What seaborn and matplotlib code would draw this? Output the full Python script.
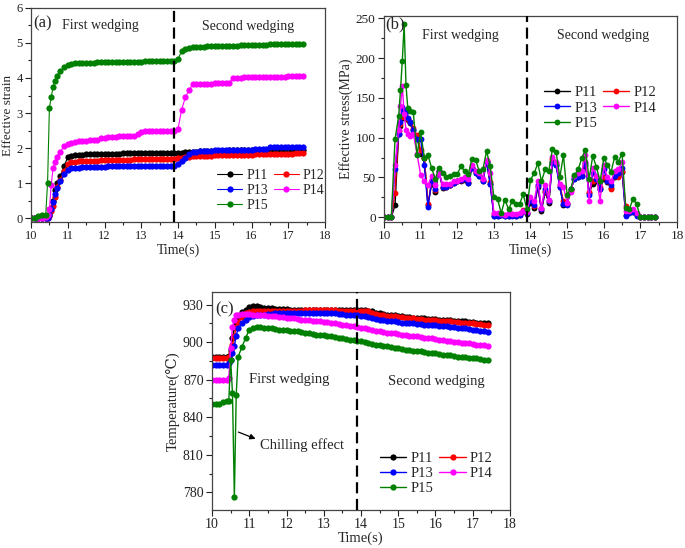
import matplotlib
matplotlib.use("Agg")
import matplotlib.pyplot as plt
import matplotlib.ticker as ticker
import seaborn as sns

# time grid (s), extra points during the fast transient
TIME = [10.0, 10.1, 10.2, 10.3, 10.4, 10.45, 10.5, 10.55, 10.6, 10.65, 10.7, 10.8, 10.9,
        11.0, 11.1, 11.2, 11.3, 11.4, 11.5, 11.6, 11.7, 11.8, 11.9,
        12.0, 12.1, 12.2, 12.3, 12.4, 12.5, 12.6, 12.7, 12.8, 12.9,
        13.0, 13.1, 13.2, 13.3, 13.4, 13.5, 13.6, 13.7, 13.8, 13.9,
        14.0, 14.1, 14.2, 14.3, 14.4, 14.5, 14.6, 14.7, 14.8, 14.9,
        15.0, 15.1, 15.2, 15.3, 15.4, 15.5, 15.6, 15.7, 15.8, 15.9,
        16.0, 16.1, 16.2, 16.3, 16.4, 16.5, 16.6, 16.7, 16.8, 16.9,
        17.0, 17.1, 17.2, 17.3, 17.4]

POINTS = ["P11", "P12", "P13", "P14", "P15"]
COLORS = ["#000000", "#ff0000", "#0000ff", "#ff00ff", "#008000"]

# (a) effective strain
STRAIN_P11 = [0, 0, 0, 0, 0, 0.02, 0.1, 0.3, 0.5, 0.8, 1.0, 1.2, 1.5,
              1.73, 1.78, 1.8, 1.8, 1.81, 1.82, 1.82, 1.82, 1.83, 1.83,
              1.83, 1.84, 1.84, 1.84, 1.84, 1.85, 1.85, 1.85, 1.85, 1.85,
              1.85, 1.86, 1.86, 1.86, 1.86, 1.86, 1.86, 1.86, 1.86, 1.86,
              1.86, 1.87, 1.88, 1.89, 1.9, 1.9, 1.91, 1.91, 1.91, 1.91,
              1.92, 1.92, 1.92, 1.92, 1.93, 1.93, 1.93, 1.93, 1.93, 1.93,
              1.94, 1.94, 1.94, 1.94, 1.94, 1.94, 1.94, 1.95, 1.95, 1.95,
              1.95, 1.95, 1.95, 1.95, 1.95]
STRAIN_P12 = [0, 0, 0, 0, 0, 0, 0.05, 0.2, 0.35, 0.6, 0.9, 1.1, 1.35,
              1.55, 1.6, 1.61, 1.62, 1.62, 1.63, 1.63, 1.64, 1.64, 1.65,
              1.65, 1.65, 1.66, 1.66, 1.66, 1.67, 1.67, 1.67, 1.68, 1.68,
              1.68, 1.68, 1.69, 1.69, 1.69, 1.69, 1.7, 1.7, 1.7, 1.7,
              1.71, 1.72, 1.73, 1.75, 1.76, 1.77, 1.77, 1.78, 1.78, 1.78,
              1.79, 1.79, 1.79, 1.8, 1.8, 1.8, 1.8, 1.81, 1.81, 1.81,
              1.81, 1.82, 1.82, 1.82, 1.82, 1.83, 1.83, 1.83, 1.84, 1.84,
              1.84, 1.84, 1.85, 1.85, 1.85]
STRAIN_P13 = [0, 0, 0, 0, 0, 0, 0.08, 0.25, 0.45, 0.7, 0.85, 1.05, 1.25,
              1.38, 1.42, 1.43, 1.44, 1.45, 1.45, 1.46, 1.46, 1.47, 1.47,
              1.47, 1.48, 1.48, 1.48, 1.48, 1.49, 1.49, 1.49, 1.49, 1.5,
              1.5, 1.5, 1.5, 1.5, 1.5, 1.5, 1.5, 1.5, 1.5, 1.5,
              1.55, 1.62, 1.72, 1.82, 1.88, 1.9, 1.91, 1.91, 1.92, 1.92,
              1.93, 1.93, 1.93, 1.94, 1.94, 1.94, 1.94, 1.95, 1.95, 1.95,
              1.95, 1.96, 1.96, 1.97, 1.97, 2.02, 2.03, 2.03, 2.03, 2.04,
              2.04, 2.04, 2.04, 2.04, 2.04]
STRAIN_P14 = [0, 0, 0, 0, 0.02, 0.08, 0.25, 0.95, 1.42, 1.6, 1.75, 1.9, 2.05,
              2.12, 2.15, 2.18, 2.19, 2.2, 2.21, 2.22, 2.23, 2.24, 2.28,
              2.3, 2.31, 2.32, 2.32, 2.33, 2.33, 2.34, 2.34, 2.35, 2.4,
              2.47, 2.48, 2.48, 2.48, 2.48, 2.49, 2.49, 2.49, 2.49, 2.5,
              2.55, 3.1, 3.45, 3.65, 3.82, 3.83, 3.83, 3.84, 3.84, 3.84,
              3.85, 3.85, 3.85, 3.86, 3.86, 4.0, 4.01, 4.01, 4.02, 4.02,
              4.02, 4.03, 4.03, 4.03, 4.03, 4.04, 4.04, 4.04, 4.04, 4.04,
              4.05, 4.05, 4.05, 4.05, 4.05]
STRAIN_P15 = [0, 0, 0.05, 0.08, 0.1, 1.0, 3.15, 3.45, 3.75, 3.9, 4.05, 4.2, 4.3,
              4.38, 4.41, 4.42, 4.43, 4.43, 4.44, 4.44, 4.44, 4.45, 4.45,
              4.45, 4.45, 4.46, 4.46, 4.46, 4.46, 4.47, 4.47, 4.47, 4.47,
              4.47, 4.48, 4.48, 4.48, 4.48, 4.48, 4.49, 4.49, 4.49, 4.49,
              4.55, 4.76, 4.84, 4.87, 4.88, 4.88, 4.89, 4.89, 4.9, 4.9,
              4.9, 4.91, 4.91, 4.91, 4.92, 4.92, 4.92, 4.93, 4.93, 4.93,
              4.94, 4.94, 4.95, 4.95, 4.95, 4.96, 4.96, 4.97, 4.97, 4.97,
              4.98, 4.98, 4.98, 4.98, 4.98]

# (b) effective stress (MPa)
STRESS_P11 = [0, 0, 0, 15, 105, 115, 125, 125, 125, 122, 118, 110, 100,
              80, 75, 15, 42, 32, 58, 37, 38, 40, 43,
              45, 46, 47, 43, 62, 56, 52, 46, 70, 42,
              2, 2, 3, 2, 2, 3, 2, 3, 8, 4,
              18, 12, 38, 8, 32, 18, 70, 66, 38, 15,
              16, 35, 48, 50, 52, 65, 30, 42, 46, 36,
              48, 44, 37, 50, 52, 57, 3, 6, 7, 3,
              0, 0, 0, 0, 0]
STRESS_P12 = [0, 0, 0, 31, 108, 117, 126, 127, 126, 123, 120, 112, 103,
              85, 75, 16, 45, 34, 58, 38, 38, 41, 44,
              46, 47, 48, 44, 63, 57, 53, 47, 71, 44,
              4, 4, 4, 3, 3, 4, 3, 4, 9, 5,
              22, 14, 40, 10, 33, 20, 73, 68, 40, 20,
              18, 34, 50, 52, 53, 70, 32, 45, 48, 38,
              50, 45, 36, 52, 50, 58, 14, 7, 8, 4,
              0, 0, 0, 0, 0]
STRESS_P13 = [0, 0, 0, 60, 105, 120, 138, 135, 132, 125, 120, 110, 98,
              98, 65, 13, 45, 35, 58, 38, 38, 40, 43,
              45, 47, 48, 43, 62, 55, 52, 45, 70, 42,
              1, 1, 3, 1, 1, 2, 1, 3, 8, 5,
              20, 15, 40, 10, 35, 20, 68, 65, 38, 16,
              15, 35, 48, 50, 52, 68, 28, 55, 48, 35,
              60, 45, 40, 52, 55, 62, 2, 5, 6, 2,
              0, 0, 0, 0, 0]
STRESS_P14 = [0, 0, 0, 65, 110, 140, 165, 130, 110, 104, 102, 105, 80,
              53, 45, 40, 52, 40, 55, 42, 42, 42, 45,
              46, 48, 50, 48, 65, 58, 55, 48, 72, 55,
              5, 5, 4, 3, 5, 4, 4, 5, 8, 6,
              25, 20, 45, 12, 40, 22, 76, 70, 42, 38,
              18, 32, 52, 55, 58, 78, 20, 62, 52, 20,
              65, 50, 45, 58, 60, 70, 8, 8, 10, 5,
              0, 0, 0, 0, 0]
STRESS_P15 = [0, 0, 0, 98, 127, 160, 197, 243, 166, 137, 133, 132, 78,
              107, 75, 78, 62, 48, 62, 55, 50, 52, 54,
              54, 64, 58, 54, 73, 72, 58, 60, 83, 64,
              25, 23, 5, 22, 10, 20, 17, 16, 29, 10,
              47, 55, 68, 45, 60, 58, 86, 82, 50, 78,
              28, 36, 53, 60, 74, 85, 48, 77, 63, 45,
              74, 66, 57, 76, 70, 80, 12, 10, 23, 16,
              0, 0, 0, 0, 0]

# (c) temperature (deg C)
TEMP_P11 = [888, 888, 888, 888, 888, 889, 894, 903, 912, 916, 920, 924, 926,
            928, 928.5, 928.5, 928, 927.5, 927, 927, 926.5, 926.5, 926.5,
            926.5, 926, 926, 925.5, 925.5, 926, 926, 926, 926, 926,
            926, 926, 926, 926, 926, 925.5, 925.5, 925.5, 925.5, 925.5,
            925.5, 925.5, 925, 924.5, 923.5, 923, 922.5, 922, 921.5, 921.5,
            921, 920.5, 920, 920, 919.5, 919.5, 919, 919, 918.5, 918.5,
            918.5, 918, 918, 917.5, 917.5, 917, 917, 916.5, 916.5, 916,
            916, 915.5, 915.5, 915, 915]
TEMP_P12 = [887, 887, 887, 887, 887, 888, 891, 898, 905, 912, 916, 920, 923,
            924, 925, 925, 925, 925, 925, 925, 925, 925, 925,
            925, 925, 925, 925, 925, 925.5, 925.5, 925.5, 925.5, 925.5,
            925.5, 925.5, 925.5, 925.5, 925, 925, 925, 925, 925, 925,
            925, 925, 924.5, 923.5, 922.5, 922, 921.5, 921, 921, 920.5,
            920, 920, 919.5, 919, 919, 918.5, 918.5, 918, 918, 917.5,
            917.5, 917, 917, 916.5, 916.5, 916, 916, 915.5, 915.5, 915,
            915, 914.5, 914.5, 914, 914]
TEMP_P13 = [882, 882, 882, 882, 882, 883, 886, 891, 897, 905, 911, 915, 918,
            920, 921, 921.5, 922, 922, 922.5, 922.5, 923, 923, 923,
            923, 923, 923, 923, 923, 923, 923, 923, 923, 923,
            923, 923, 923, 923, 922.5, 922.5, 922, 922, 921.5, 921.5,
            921, 920.5, 920, 919, 918.5, 918, 917.5, 917, 916.5, 916.5,
            916, 915.5, 915.5, 915, 915, 914.5, 914.5, 914, 914, 913.5,
            913.5, 913, 913, 912.5, 912, 912, 911.5, 911, 911, 910.5,
            910, 909.5, 909, 908.5, 908]
TEMP_P14 = [870, 870, 870, 870, 870, 871, 895, 912, 918, 921.5, 922, 922.5, 922.5,
            922.5, 922, 922, 921.5, 921.5, 921, 921, 920.5, 920, 920,
            919.5, 919, 919, 918.5, 918, 918, 917.5, 917, 917, 916.5,
            916, 916, 915.5, 915, 914.5, 914, 913.5, 913, 912.5, 912,
            911.5, 911, 910.5, 910, 909, 908.5, 908, 907.5, 907, 907,
            906.5, 906, 905.5, 905, 904.5, 904.5, 904, 903.5, 903, 903,
            902.5, 902, 901.5, 901, 900.5, 900, 900, 899.5, 899, 899,
            898.5, 898, 897.5, 897.5, 897]
TEMP_P15 = [851, 850.5, 851, 852, 853, 853, 886, 859, 776, 858, 888, 896, 903,
            910, 911.5, 912, 912, 911.5, 911.5, 911, 910.5, 910, 910,
            909.5, 909, 908.5, 908.5, 908, 907.5, 907, 906.5, 906, 906,
            905.5, 905, 904.5, 904, 903.5, 903, 902.5, 902, 901.5, 901,
            900.5, 900, 899, 898.5, 898, 897.5, 897, 896.5, 896, 895.5,
            895, 894.5, 894, 893.5, 893, 893, 892.5, 892, 891.5, 891.5,
            891, 890.5, 890, 890, 889.5, 889, 888.5, 888.5, 888, 887.5,
            887, 887, 886.5, 886, 886]


def draw_panel(ax, series, lw, ms, fs_tick):
    for name, color, values in zip(POINTS, COLORS, series):
        sns.lineplot(x=TIME, y=values, ax=ax, color=color, label=name,
                     marker="o", markersize=ms, markeredgewidth=0, linewidth=lw)
    ax.axvline(13.9, color="black", lw=1.6, linestyle=(0, (5, 2.5)), zorder=5)
    ax.set_xlim(10, 18)
    ax.set_xticks(range(10, 19))
    ax.xaxis.set_minor_locator(ticker.MultipleLocator(0.5))
    ax.tick_params(which="both", direction="out", top=False, right=False,
                   labelsize=fs_tick, width=0.8, colors="#222222", pad=2)
    ax.tick_params(which="major", length=4)
    ax.tick_params(which="minor", length=2)
    for sp in ax.spines.values():
        sp.set_color("#444444")
        sp.set_linewidth(0.9)


def add_legend(ax, fs, anchor, loc):
    handles, labels = ax.get_legend_handles_labels()
    order = [0, 2, 4, 1, 3]
    ax.legend([handles[i] for i in order], [labels[i] for i in order], ncol=2,
              frameon=False, fontsize=fs, loc=loc, bbox_to_anchor=anchor,
              handlelength=1.8, handletextpad=0.3, columnspacing=0.4,
              labelspacing=0.15, borderpad=0.2)


sns.set_style("ticks")
plt.rcParams["font.family"] = ["Liberation Serif", "DejaVu Serif"]

fig = plt.figure(figsize=(6.85, 5.48), dpi=100)
ax_a = fig.add_axes([0.0453, 0.595, 0.4292, 0.3905])
ax_b = fig.add_axes([0.5606, 0.595, 0.4277, 0.3758])
ax_c = fig.add_axes([0.3095, 0.0693, 0.4350, 0.3979])

# (a)
draw_panel(ax_a, [STRAIN_P11, STRAIN_P12, STRAIN_P13, STRAIN_P14, STRAIN_P15], 0.8, 4.5, 9)
ax_a.set_ylim(-0.11, 6)
ax_a.set_yticks(range(0, 7))
ax_a.yaxis.set_minor_locator(ticker.MultipleLocator(0.5))
ax_a.set_xlabel("Time(s)", fontsize=10, labelpad=1)
ax_a.set_ylabel("Effective strain", fontsize=9.5)
ax_a.yaxis.set_label_coords(-0.058, 0.5)
ax_a.text(10.05, 5.56, "(a)", fontsize=12, va="center")
ax_a.text(11.9, 5.51, "First wedging", fontsize=10, ha="center", va="center")
ax_a.text(15.9, 5.46, "Second wedging", fontsize=10, ha="center", va="center")
add_legend(ax_a, 10, (0.6, 0.0), "lower left")

# (b)
draw_panel(ax_b, [STRESS_P11, STRESS_P12, STRESS_P13, STRESS_P14, STRESS_P15], 1.0, 4.2, 9.5)
ax_b.set_ylim(-6, 253)
ax_b.set_yticks(range(0, 251, 50))
ax_b.yaxis.set_minor_locator(ticker.MultipleLocator(25))
ax_b.set_xlabel("Time(s)", fontsize=10, labelpad=1)
ax_b.set_ylabel("Effective stress(MPa)", fontsize=10, labelpad=2)
ax_b.text(10.03, 243, "(b)", fontsize=12, va="center")
ax_b.text(12.08, 229, "First wedging", fontsize=10, ha="center", va="center")
ax_b.text(15.98, 229, "Second wedging", fontsize=10, ha="center", va="center")
add_legend(ax_b, 10.5, (0.51, 0.71), "upper left")

# (c)
draw_panel(ax_c, [TEMP_P11, TEMP_P12, TEMP_P13, TEMP_P14, TEMP_P15], 1.0, 4.5, 10)
ax_c.set_ylim(766, 940)
ax_c.set_yticks(range(780, 931, 30))
ax_c.yaxis.set_minor_locator(ticker.MultipleLocator(15))
ax_c.set_xlabel("Time(s)", fontsize=10.5, labelpad=0)
ax_c.set_ylabel("Temperature(\u2103)", fontsize=10.5, labelpad=2)
ax_c.text(10.1, 926, "(c)", fontsize=12, va="center")
ax_c.text(12.06, 870.5, "First wedging", fontsize=10.5, ha="center", va="center")
ax_c.text(16.03, 868.5, "Second wedging", fontsize=10.5, ha="center", va="center")
ax_c.annotate("", xy=(11.24, 822), xytext=(10.64, 829),
              arrowprops=dict(arrowstyle="-|>", color="black", lw=0.9, mutation_scale=8))
ax_c.text(11.3, 818, "Chilling effect", fontsize=10.5, ha="left", va="center")
add_legend(ax_c, 10.5, (0.53, 0.02), "lower left")

fig.savefig("out.png", dpi=100)
